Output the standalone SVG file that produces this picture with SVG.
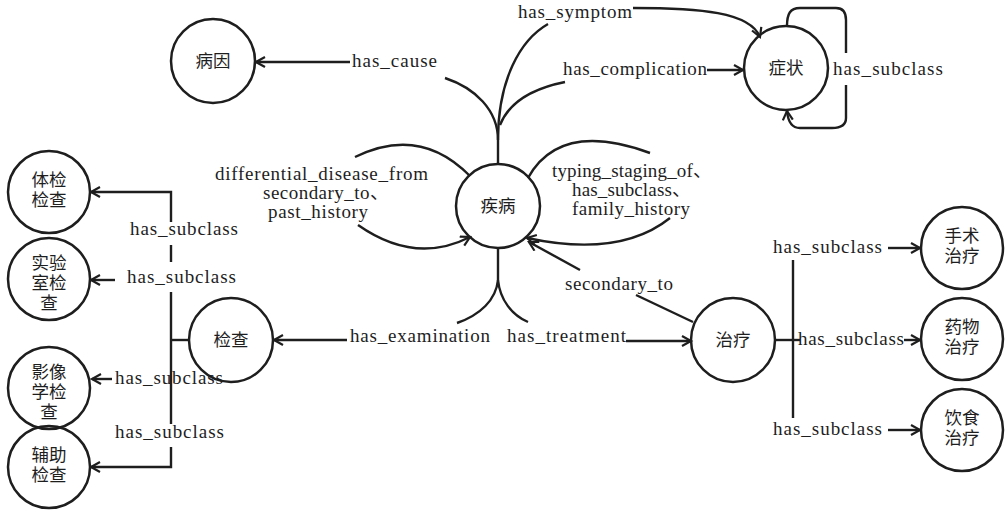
<svg xmlns="http://www.w3.org/2000/svg" width="1005" height="514" viewBox="0 0 1005 514">
<defs>
<style>
.n{fill:none;stroke:#1e1e1e;stroke-width:2.5}
.e{fill:none;stroke:#1e1e1e;stroke-width:2.4}
.a{marker-end:url(#arr)}
.t{font-size:19px;fill:#1e1e1e}
.c{font-size:17.5px;fill:#1e1e1e;text-anchor:middle}
</style>
<marker id="arr" markerUnits="userSpaceOnUse" markerWidth="14" markerHeight="14" refX="10" refY="6" orient="auto">
<path d="M1,1 L10,6 L1,11" fill="none" stroke="#1e1e1e" stroke-width="2.2"/>
</marker>
</defs>
<rect width="1005" height="514" fill="#ffffff"/>
<g id="connectors">
<path class="e" d="M498,164 L498,140"/>
<path class="e" d="M498,140 C498,110 475,88 445,78"/>
<path class="e" d="M498,140 C498,80 520,40 548,24"/>
<path class="e" d="M500,125 C510,100 535,88 565,82"/>
<path class="e a" d="M350,62 L256,62"/>
<path class="e a" d="M633,8 C700,8 750,12 760,37"/>
<path class="e a" d="M707,70 L743,70"/>
<path class="e" d="M787,26 C787,14 790,8 800,8 L836,8 C843,8 846,12 846,20 L846,53"/>
<path class="e a" d="M846,85 L846,118 C846,125 841,128 832,128 L800,128 C792,128 788,122 787,111"/>
<path class="e" d="M355,157 Q420,125 470,176"/>
<path class="e a" d="M358,225 Q415,265 470,237"/>
<path class="e" d="M528,178 Q560,120 650,153"/>
<path class="e a" d="M670,218 Q620,258 527,238"/>
<path class="e a" d="M580,270 L529,242"/>
<path class="e" d="M636,295 L693,322"/>
<path class="e" d="M498,248 L498,280"/>
<path class="e" d="M498,280 C496,300 480,315 457,323"/>
<path class="e" d="M498,280 C500,300 512,315 528,322"/>
<path class="e a" d="M347,340 L274,340"/>
<path class="e a" d="M626,341 L691,341"/>
<path class="e a" d="M171,222 L171,192 L91,192"/>
<path class="e" d="M171,245 L171,262"/>
<path class="e a" d="M115,280 L91,280"/>
<path class="e" d="M171,292 L171,424"/>
<path class="e" d="M189,340 L171,340"/>
<path class="e a" d="M112,379 L92,379"/>
<path class="e a" d="M171,447 L171,467 L91,467"/>
<path class="e" d="M793,260 L793,418"/>
<path class="e" d="M775,340 L800,340"/>
<path class="e a" d="M904,340 L920,340"/>
<path class="e a" d="M888,248 L920,248"/>
<path class="e a" d="M888,430 L920,430"/>
</g>
<g id="edge-labels" font-family="'Liberation Serif', 'Noto Sans CJK SC', serif">
<text class="t" x="352" y="67" textLength="85" lengthAdjust="spacing">has_cause</text>
<text class="t" x="518" y="18" textLength="114" lengthAdjust="spacing">has_symptom</text>
<text class="t" x="563" y="75" textLength="144" lengthAdjust="spacing">has_complication</text>
<text class="t" x="833" y="75" textLength="110" lengthAdjust="spacing">has_subclass</text>
<text class="t"><tspan x="215" y="180" textLength="213" lengthAdjust="spacing">differential_disease_from</tspan><tspan x="263" y="199" textLength="126" lengthAdjust="spacing">secondary_to、</tspan><tspan x="268" y="218" textLength="100" lengthAdjust="spacing">past_history</tspan></text>
<text class="t"><tspan x="552" y="177" textLength="160" lengthAdjust="spacing">typing_staging_of、</tspan><tspan x="572" y="196" textLength="119" lengthAdjust="spacing">has_subclass、</tspan><tspan x="572" y="215" textLength="118" lengthAdjust="spacing">family_history</tspan></text>
<text class="t" x="565" y="290" textLength="108" lengthAdjust="spacing">secondary_to</text>
<text class="t" x="350" y="342" textLength="140" lengthAdjust="spacing">has_examination</text>
<text class="t" x="507" y="342" textLength="119" lengthAdjust="spacing">has_treatment</text>
<text class="t" x="130" y="235" textLength="108" lengthAdjust="spacing">has_subclass</text>
<text class="t" x="127" y="283" textLength="109" lengthAdjust="spacing">has_subclass</text>
<text class="t" x="115" y="384" textLength="108" lengthAdjust="spacing">has_subclass</text>
<text class="t" x="115" y="438" textLength="109" lengthAdjust="spacing">has_subclass</text>
<text class="t" x="773" y="253" textLength="109" lengthAdjust="spacing">has_subclass</text>
<text class="t" x="798" y="345" textLength="106" lengthAdjust="spacing">has_subclass</text>
<text class="t" x="773" y="435" textLength="109" lengthAdjust="spacing">has_subclass</text>
</g>
<g font-family="'Liberation Sans', 'Noto Sans CJK SC', 'Noto Sans CJK TC', sans-serif">
<g id="node-bingyin"><circle class="n" cx="213" cy="61" r="42"/><text class="c" x="213" y="67">病因</text></g>
<g id="node-zhengzhuang"><circle class="n" cx="786" cy="68" r="42"/><text class="c" x="786" y="74">症状</text></g>
<g id="node-jibing"><circle class="n" cx="498" cy="206" r="42"/><text class="c" x="498" y="212">疾病</text></g>
<g id="node-jiancha"><circle class="n" cx="231" cy="340" r="42"/><text class="c" x="231" y="346">检查</text></g>
<g id="node-zhiliao"><circle class="n" cx="733" cy="340" r="42"/><text class="c" x="733" y="346">治疗</text></g>
<g id="node-tijian"><circle class="n" cx="49" cy="192" r="41"/><text class="c"><tspan x="49" y="186">体检</tspan><tspan x="49" y="206">检查</tspan></text></g>
<g id="node-shiyanshi"><circle class="n" cx="49" cy="279" r="41"/><text class="c"><tspan x="49" y="269">实验</tspan><tspan x="49" y="289">室检</tspan><tspan x="49" y="309">查</tspan></text></g>
<g id="node-yingxiang"><circle class="n" cx="49" cy="388" r="41"/><text class="c"><tspan x="49" y="378">影像</tspan><tspan x="49" y="398">学检</tspan><tspan x="49" y="418">查</tspan></text></g>
<g id="node-fuzhu"><circle class="n" cx="49" cy="467" r="41"/><text class="c"><tspan x="49" y="461">辅助</tspan><tspan x="49" y="481">检查</tspan></text></g>
<g id="node-shoushu"><circle class="n" cx="962" cy="248" r="41"/><text class="c"><tspan x="962" y="242">手术</tspan><tspan x="962" y="262">治疗</tspan></text></g>
<g id="node-yaowu"><circle class="n" cx="962" cy="339" r="41"/><text class="c"><tspan x="962" y="333">药物</tspan><tspan x="962" y="353">治疗</tspan></text></g>
<g id="node-yinshi"><circle class="n" cx="962" cy="430" r="41"/><text class="c"><tspan x="962" y="424">饮食</tspan><tspan x="962" y="444">治疗</tspan></text></g>
</g>
</svg>
